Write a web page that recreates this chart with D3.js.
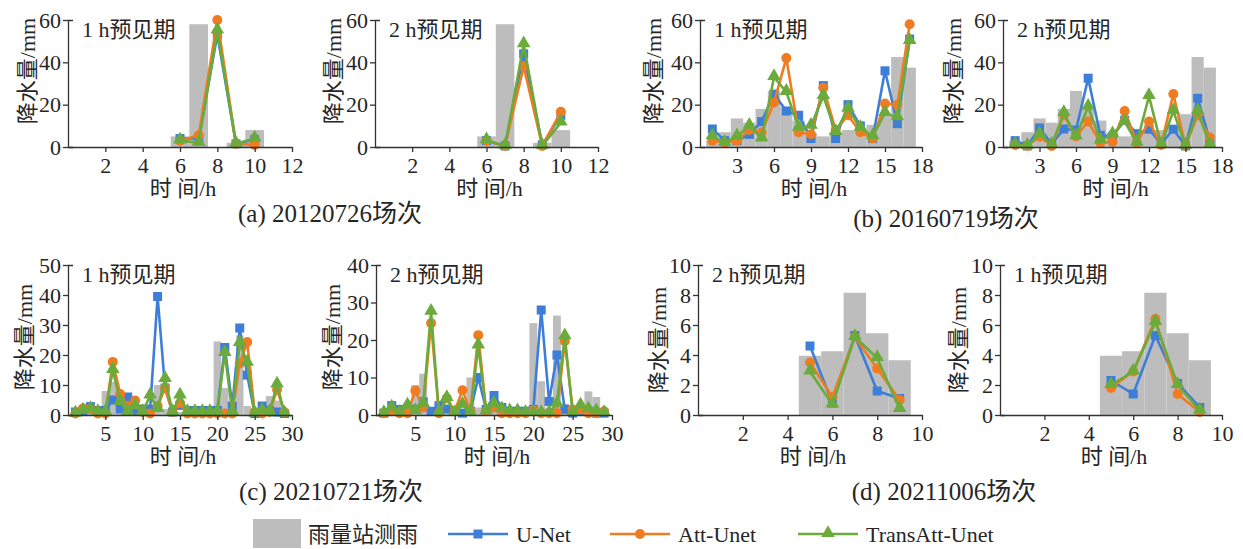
<!DOCTYPE html>
<meta charset="utf-8" />
<style>
    body { margin: 0; background: #fff; }
    text { font-family: "Liberation Serif", "Noto Sans CJK SC", serif; fill: #262626; }
    .axis path, .axis line { stroke: #333; stroke-width: 1.3px; }
    .axis text { font-family: "Liberation Serif", serif; font-size: 22px; }
</style>
<svg width="1243" height="549"></svg>
<script src="https://d3js.org/d3.v7.min.js"></script>
<script>
    // (a) 20120726
    var hoursA = [6, 7, 8, 9, 10];
    var obsA = [5, 58, 0, 2, 8];
    var unetA1 = [4, 4, 53, 1.5, 3.5];
    var attA1 = [3, 5.5, 60, 1.5, 1];
    var transA1 = [3, 2, 55, 1.5, 4];
    var unetA2 = [3, 0.5, 44, 1, 15];
    var attA2 = [3, 0.5, 38, 0.5, 16.6];
    var transA2 = [3.2, 0.5, 48.5, 0.5, 11.5];

    // (b) 20160719
    var hoursB = [1, 2, 3, 4, 5, 6, 7, 8, 9, 10, 11, 12, 13, 14, 15, 16, 17];
    var obsB = [3, 7, 13.5, 11.5, 18, 26.5, 19, 12.5, 6.5, 5, 7, 8, 8, 10.5, 15.5, 42.5, 37.5];
    var unetB1 = [8.5, 3, 3, 6, 12, 25, 17, 15, 4, 29, 4, 20, 10, 4, 36, 11, 51];
    var attB1 = [3, 2, 3, 8, 7, 21, 42, 7, 6, 28, 8, 15, 7, 4, 20.5, 20, 58];
    var transB1 = [5, 2, 5, 10, 4, 33, 26, 9, 10, 24, 7, 18, 9, 5, 16, 14, 50];
    var unetB2 = [3, 0.5, 9, 1.5, 8.5, 8, 32.5, 5.5, 5, 12.7, 6.3, 8.4, 1.5, 8.4, 0.5, 23, 3];
    var attB2 = [1, 0.5, 5, 0.5, 15, 5, 12, 2, 2.5, 17, 2, 12, 1, 25, 0.5, 15, 4.5];
    var transB2 = [1, 0.5, 6, 1, 16, 5, 19, 3, 6, 12, 2, 24, 1, 17, 0.5, 17, 1];

    // (c) 20210721
    var hoursC = d3.range(1, 30);
    var obsC = [1, 1.5, 2, 1.5, 8, 11, 2, 1, 1, 1, 1, 10, 2, 1, 1, 1, 1, 1, 1, 24.5, 9, 2, 26.5, 3, 0.5, 1, 6.3, 4.8, 1];
    var unetC1 = [1, 1.5, 2.8, 1.5, 1.5, 5, 2, 6, 1.5, 2, 2, 39.5, 9, 1, 3.2, 1.5, 1.5, 1.5, 1.5, 1.5, 22.5, 3, 29, 13.3, 0.5, 3, 1.5, 1, 0.5];
    var attC1 = [0.5, 2.2, 2, 0.5, 0.5, 17.7, 7, 3, 4.8, 1, 0.5, 3, 9, 1, 4, 0.5, 0.5, 0.5, 0.5, 0.5, 0.5, 0.5, 17.2, 24.3, 1, 0.5, 1, 8.4, 0.9];
    var transC1 = [0.5, 1.5, 2, 1, 1, 15, 4.3, 1, 3, 1, 6.5, 2, 12, 1, 6.5, 1, 1, 1, 1, 1, 20.6, 1, 24, 17.4, 0.5, 1.5, 1, 10.1, 0.5];
    var unetC2 = [0.5, 2.5, 1.5, 1.5, 1.5, 3.5, 1, 2.5, 1.6, 1, 0.5, 1, 10, 1.5, 5.2, 2, 1, 1, 1, 1.5, 28, 3.6, 16, 1.5, 0.5, 1, 1, 0.5, 0.5];
    var attC2 = [0.5, 1, 0.5, 0.5, 6.5, 2, 24.5, 0.5, 4.5, 1, 6.6, 1, 21.3, 1, 2, 0.5, 0.5, 0.5, 0.5, 1.3, 0.5, 0.5, 0.5, 19.7, 1.5, 1.5, 0.5, 0.5, 1];
    var transC2 = [0.5, 2, 0.5, 2.5, 1, 3, 27.5, 0.5, 4.5, 0.5, 2.7, 0.5, 18.5, 1, 3, 1.5, 1, 1, 0.5, 0.5, 0.5, 0.5, 3, 21, 0.5, 2.5, 1.5, 1, 0.5];

    // (d) 20211006
    var hoursD = [5, 6, 7, 8, 9];
    var obsD = [3.95, 4.25, 8.15, 5.45, 3.65];
    var unetD2h = [4.6, 0.8, 5.3, 1.6, 1.1];
    var attD2h = [3.5, 1.2, 5.2, 3.1, 1.0];
    var transD2h = [2.9, 0.7, 5.2, 3.8, 0.4];
    var unetD1h = [2.3, 1.4, 5.3, 2.1, 0.5];
    var attD1h = [1.8, 2.9, 6.4, 1.4, 0.2];
    var transD1h = [2.0, 2.9, 6.2, 2.0, 0.3];

    var colors = { unet: "#3c7ed8", att: "#f07c22", trans: "#6aab3b", obs: "#bdbdbd" };

    var svg = d3.select("svg");

    function marker(g, kind, x, y) {
        if (kind === "unet") {
            g.append("rect").attr("x", x - 4.5).attr("y", y - 4.5).attr("width", 9).attr("height", 9)
                .attr("fill", colors.unet);
        } else if (kind === "att") {
            g.append("circle").attr("cx", x).attr("cy", y).attr("r", 5).attr("fill", colors.att);
        } else {
            g.append("path").attr("d", d3.symbol().type(d3.symbolTriangle).size(80)())
                .attr("transform", "translate(" + x + "," + (y - 1) + ")")
                .attr("fill", colors.trans);
        }
    }

    function panel(p) {
        var g = svg.append("g");
        var x = d3.scaleLinear().domain(p.xd).range(p.xr);
        var y = d3.scaleLinear().domain(p.yd).range(p.yr);
        var w = x(1) - x(0);

        // observed rain bars
        g.append("g").selectAll("rect")
            .data(p.hours)
            .enter()
            .append("rect")
            .attr("x", function (d) { return x(d) - w / 2; })
            .attr("width", w)
            .attr("y", function (d, i) { return y(p.obs[i]); })
            .attr("height", function (d, i) { return y(0) - y(p.obs[i]); })
            .attr("fill", colors.obs);

        var line = d3.line()
            .x(function (d) { return x(d[0]); })
            .y(function (d) { return y(d[1]); });

        ["unet", "att", "trans"].forEach(function (k) {
            var pts = p.hours.map(function (h, i) { return [h, p[k][i]]; });
            var sg = g.append("g");
            sg.append("path").datum(pts).attr("d", line)
                .attr("fill", "none").attr("stroke", colors[k]).attr("stroke-width", 2.6)
                .attr("stroke-linejoin", "round");
            pts.forEach(function (d) { marker(sg, k, x(d[0]), y(d[1])); });
        });

        g.append("g").attr("class", "axis")
            .attr("transform", "translate(0," + p.yr[0] + ")")
            .call(d3.axisBottom(x).tickValues(p.xt).tickSize(5).tickSizeOuter(0).tickPadding(5))
            .attr("font-family", "Liberation Serif").attr("font-size", 22);
        g.append("g").attr("class", "axis")
            .attr("transform", "translate(" + p.xr[0] + ",0)")
            .call(d3.axisLeft(y).tickValues(p.yt).tickSize(5).tickSizeOuter(-5).tickPadding(2))
            .attr("font-family", "Liberation Serif").attr("font-size", 22);
        g.selectAll(".axis text").attr("fill", "#262626");

        g.append("text").attr("x", p.xr[0] + 14).attr("y", p.yr[1] + 9)
            .attr("dominant-baseline", "central").attr("font-size", 22).text(p.title);
        g.append("text").attr("x", (p.xr[0] + p.xr[1]) / 2 + 3).attr("y", p.yr[0] + 41)
            .attr("text-anchor", "middle").attr("dominant-baseline", "central").attr("font-size", 22)
            .text("时 间/h");
        g.append("text")
            .attr("transform", "translate(" + p.ly + "," + p.lyc + ") rotate(-90)")
            .attr("text-anchor", "middle").attr("dominant-baseline", "central").attr("font-size", 22)
            .text("降水量/mm");
    }

    var row1 = [147, 20], row2 = [415, 265];

    panel({ hours: hoursA, obs: obsA, unet: unetA1, att: attA1, trans: transA1, xd: [0, 12], yd: [0, 60],
        xr: [68, 292], yr: row1, xt: [2, 4, 6, 8, 10, 12], yt: [0, 20, 40, 60], title: "1 h预见期", ly: 27, lyc: 71 });
    panel({ hours: hoursA, obs: obsA, unet: unetA2, att: attA2, trans: transA2, xd: [0, 12], yd: [0, 60],
        xr: [375, 598], yr: row1, xt: [2, 4, 6, 8, 10, 12], yt: [0, 20, 40, 60], title: "2 h预见期", ly: 333, lyc: 71 });
    panel({ hours: hoursB, obs: obsB, unet: unetB1, att: attB1, trans: transB1, xd: [0, 18], yd: [0, 60],
        xr: [700, 922], yr: row1, xt: [3, 6, 9, 12, 15, 18], yt: [0, 20, 40, 60], title: "1 h预见期", ly: 653, lyc: 71 });
    panel({ hours: hoursB, obs: obsB, unet: unetB2, att: attB2, trans: transB2, xd: [0, 18], yd: [0, 60],
        xr: [1003, 1222], yr: row1, xt: [3, 6, 9, 12, 15, 18], yt: [0, 20, 40, 60], title: "2 h预见期", ly: 953, lyc: 71 });
    panel({ hours: hoursC, obs: obsC, unet: unetC1, att: attC1, trans: transC1, xd: [0, 30], yd: [0, 50],
        xr: [68, 292], yr: row2, xt: [5, 10, 15, 20, 25, 30], yt: [0, 10, 20, 30, 40, 50], title: "1 h预见期", ly: 24, lyc: 337 });
    panel({ hours: hoursC, obs: obsC, unet: unetC2, att: attC2, trans: transC2, xd: [0, 30], yd: [0, 40],
        xr: [376, 612], yr: row2, xt: [5, 10, 15, 20, 25, 30], yt: [0, 10, 20, 30, 40], title: "2 h预见期", ly: 332, lyc: 337 });
    panel({ hours: hoursD, obs: obsD, unet: unetD2h, att: attD2h, trans: transD2h, xd: [0, 10], yd: [0, 10],
        xr: [698, 922], yr: row2, xt: [2, 4, 6, 8, 10], yt: [0, 2, 4, 6, 8, 10], title: "2 h预见期", ly: 658, lyc: 340 });
    panel({ hours: hoursD, obs: obsD, unet: unetD1h, att: attD1h, trans: transD1h, xd: [0, 10], yd: [0, 10],
        xr: [1000, 1222], yr: row2, xt: [2, 4, 6, 8, 10], yt: [0, 2, 4, 6, 8, 10], title: "1 h预见期", ly: 958, lyc: 340 });

    // captions
    var captions = [
        { t: "(a) 20120726场次", x: 330, y: 213 },
        { t: "(b) 20160719场次", x: 946, y: 218 },
        { t: "(c) 20210721场次", x: 331, y: 491 },
        { t: "(d) 20211006场次", x: 944, y: 491 }
    ];
    svg.selectAll(".cap").data(captions).enter().append("text")
        .attr("x", function (d) { return d.x; }).attr("y", function (d) { return d.y; })
        .attr("text-anchor", "middle").attr("dominant-baseline", "central").attr("font-size", 25)
        .text(function (d) { return d.t; });

    // legend
    var lg = svg.append("g");
    lg.append("rect").attr("x", 253).attr("y", 519).attr("width", 48).attr("height", 29).attr("fill", colors.obs);
    lg.append("text").attr("x", 308).attr("y", 534).attr("dominant-baseline", "central").attr("font-size", 22)
        .text("雨量站测雨");
    var items = [
        { k: "unet", t: "U-Net", x: 448 },
        { k: "att", t: "Att-Unet", x: 610 },
        { k: "trans", t: "TransAtt-Unet", x: 798 }
    ];
    items.forEach(function (it) {
        lg.append("line").attr("x1", it.x).attr("x2", it.x + 60).attr("y1", 534).attr("y2", 534)
            .attr("stroke", colors[it.k]).attr("stroke-width", 2.6);
        marker(lg, it.k, it.x + 30, 534);
        lg.append("text").attr("x", it.x + 68).attr("y", 534).attr("dominant-baseline", "central")
            .attr("font-size", 22).text(it.t);
    });
</script>
